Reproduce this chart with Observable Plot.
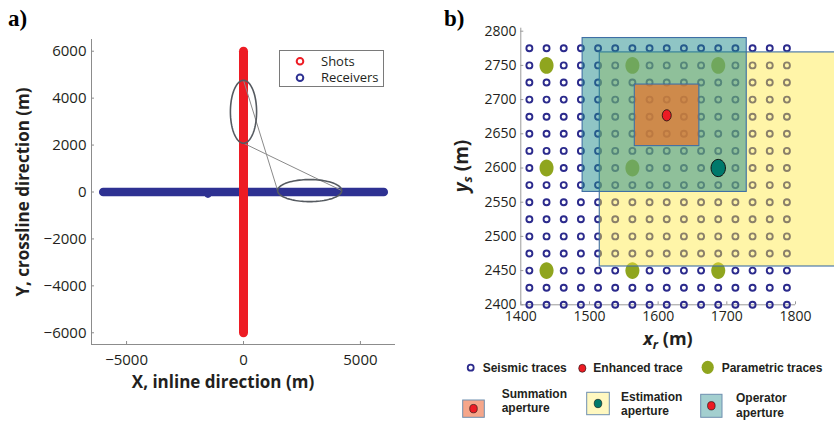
<!DOCTYPE html>
<html>
<head>
<meta charset="utf-8">
<script src="https://cdn.jsdelivr.net/npm/d3@7"></script>
<script src="https://cdn.jsdelivr.net/npm/@observablehq/plot@0.6"></script>
<style>
  html, body { margin: 0; padding: 0; background: #fff; }
  body { width: 834px; height: 421px; position: relative; overflow: hidden; font-family: "Open Sans", sans-serif; }
  .panel { position: absolute; top: 0; }
  #overlay { position: absolute; left: 0; top: 0; pointer-events: none; }
</style>
</head>
<body>
<div id="pa" class="panel" style="left:0px"></div>
<div id="pb" class="panel" style="left:420px"></div>
<svg id="overlay" width="834" height="421"></svg>
<script>
// ---------------- Panel a data ----------------
const aXDomain = [-6500, 6500];
const aYDomain = [-6500, 6500];
const aXTicks = [-5000, 0, 5000];
const aYTicks = [-6000, -4000, -2000, 0, 2000, 4000, 6000];
const shotX = [0, 0];
const shotY = [-6000, 6000];
const receiverX = [-6000, 6000];
const receiverY = [0, 0];
const strayReceiverX = [-1520];
const strayReceiverY = [-110];
// zoom ellipses (centre and half-axes, metres)
const zoomCX = [0, 2830];
const zoomCY = [3420, 60];
const zoomRX = [560, 1370];
const zoomRY = [1340, 470];
const aLegendLabels = ["Shots", "Receivers"];

// ---------------- Panel b data ----------------
const bXDomain = [1400, 1800];
const bYDomain = [2400, 2800];
const bXTicks = [1400, 1500, 1600, 1700, 1800];
const bYTicks = [2400, 2450, 2500, 2550, 2600, 2650, 2700, 2750, 2800];
const traceX = [1412.5, 1437.5, 1462.5, 1487.5, 1512.5, 1537.5, 1562.5, 1587.5, 1612.5, 1637.5, 1662.5, 1687.5, 1712.5, 1737.5, 1762.5, 1787.5];
const traceY = [2400, 2425, 2450, 2475, 2500, 2525, 2550, 2575, 2600, 2625, 2650, 2675, 2700, 2725, 2750, 2775];
const paramX = [1437.5, 1562.5, 1687.5, 1437.5, 1562.5, 1437.5, 1562.5, 1687.5];
const paramY = [2750, 2750, 2750, 2600, 2600, 2450, 2450, 2450];
const enhancedX = [1612.5];
const enhancedY = [2677];
const estPointX = [1687.5];
const estPointY = [2600];
const apertureNames = ["Estimation", "Operator", "Summation"];
const apertureX1 = [1515, 1490, 1566];
const apertureX2 = [1860, 1729, 1660];
const apertureY1 = [2456, 2565, 2632];
const apertureY2 = [2769, 2790, 2722];
const bLegendRow1 = ["Seismic traces", "Enhanced trace", "Parametric traces"];
const bLegendRow2 = [["Summation", "aperture"], ["Estimation", "aperture"], ["Operator", "aperture"]];

// ---------------- styles ----------------
const RED = "#ed1c24", BLUE = "#2e3192", AXIS = "#8c8c8c", TXT = "#231f20";
const apertureStyle = {
  Estimation: {fill: "#ffe93e", opacity: 0.45},
  Operator:   {fill: "#1f8b8b", opacity: 0.5},
  Summation:  {fill: "#e8742a", opacity: 0.7}
};
const OLIVE = "#8fa51e", TEAL = "#00796b";

function ellipseSymbol(aspect) {
  return {
    draw(ctx, size) {
      const rx = Math.sqrt(size / Math.PI), ry = rx * aspect, k = 0.5523;
      ctx.moveTo(rx, 0);
      ctx.bezierCurveTo(rx, ry * k, rx * k, ry, 0, ry);
      ctx.bezierCurveTo(-rx * k, ry, -rx, ry * k, -rx, 0);
      ctx.bezierCurveTo(-rx, -ry * k, -rx * k, -ry, 0, -ry);
      ctx.bezierCurveTo(rx * k, -ry, rx, -ry * k, rx, 0);
      ctx.closePath();
    }
  };
}

// ---------------- Panel a ----------------
const shots = shotX.map((x, i) => ({x, y: shotY[i]}));
const receivers = receiverX.map((x, i) => ({x, y: receiverY[i]}));
const strays = strayReceiverX.map((x, i) => ({x, y: strayReceiverY[i]}));
const ellipsePts = [];
zoomCX.forEach((cx, j) => {
  for (let t = 0; t < 96; t++) {
    const a = (t / 96) * 2 * Math.PI;
    ellipsePts.push({id: j, x: cx + zoomRX[j] * Math.cos(a), y: zoomCY[j] + zoomRY[j] * Math.sin(a)});
  }
});
const connectors = [
  {x1: zoomCX[0], y1: zoomCY[0] + zoomRY[0], x2: zoomCX[1] - zoomRX[1], y2: zoomCY[1]},
  {x1: zoomCX[0], y1: zoomCY[0] - zoomRY[0], x2: zoomCX[1] + zoomRX[1], y2: zoomCY[1]}
];

const chartA = Plot.plot({
  width: 420, height: 421,
  marginLeft: 91, marginRight: 25, marginTop: 39, marginBottom: 77,
  style: {fontFamily: "'Open Sans', sans-serif", fontSize: "15px", color: TXT, background: "transparent", overflow: "visible"},
  x: {domain: aXDomain},
  y: {domain: aYDomain},
  marks: [
    Plot.ruleX([aXDomain[0]], {stroke: AXIS, strokeWidth: 1}),
    Plot.ruleY([aYDomain[0]], {stroke: AXIS, strokeWidth: 1}),
    Plot.axisX(aXTicks, {tickSize: -3, tickPadding: 13, stroke: AXIS, fill: TXT, tickFormat: d3.format("d"), label: null}),
    Plot.axisY(aYTicks, {tickSize: -3, tickPadding: 8, stroke: AXIS, fill: TXT, tickFormat: d3.format("d"), label: null}),
    Plot.line(receivers, {x: "x", y: "y", stroke: BLUE, strokeWidth: 8.5, strokeLinecap: "round"}),
    Plot.dot(strays, {x: "x", y: "y", r: 3.3, fill: BLUE}),
    Plot.line(shots, {x: "x", y: "y", stroke: RED, strokeWidth: 9, strokeLinecap: "round"}),
    Plot.link(connectors, {x1: "x1", y1: "y1", x2: "x2", y2: "y2", stroke: "#8a8a8a", strokeWidth: 1}),
    Plot.line(ellipsePts, {x: "x", y: "y", z: "id", curve: "linear-closed", stroke: "#555a60", strokeWidth: 1.6})
  ]
});
document.getElementById("pa").appendChild(chartA);

// ---------------- Panel b ----------------
const seismic = d3.cross(traceX, traceY).map(([x, y]) => ({x, y}));
const params = paramX.map((x, i) => ({x, y: paramY[i]}));
const apertures = apertureNames.map((name, i) => ({
  name, x1: apertureX1[i], x2: apertureX2[i], y1: apertureY1[i], y2: apertureY2[i]
}));

const chartB = Plot.plot({
  width: 414, height: 421,
  marginLeft: 100.3, marginRight: 39, marginTop: 30.7, marginBottom: 116.7,
  style: {fontFamily: "'Open Sans', sans-serif", fontSize: "14px", color: TXT, background: "transparent"},
  x: {domain: bXDomain},
  y: {domain: bYDomain},
  marks: [
    Plot.ruleX([bXDomain[0]], {stroke: "#9a9a9a", strokeWidth: 1, insetTop: -3}),
    Plot.ruleY([bYDomain[0]], {stroke: "#9a9a9a", strokeWidth: 1}),
    Plot.axisX(bXTicks, {tickSize: -3, tickPadding: 9.7, stroke: "#9a9a9a", fill: TXT, tickFormat: d3.format("d"), label: null}),
    Plot.axisY(bYTicks, {tickSize: -3, tickPadding: 7.3, stroke: "#9a9a9a", fill: TXT, tickFormat: d3.format("d"), label: null}),
    Plot.dot(seismic, {x: "x", y: "y", r: 3, stroke: "#2b2a8c", strokeWidth: 1.9, fill: "none"}),
    Plot.dot(params, {x: "x", y: "y", r: 7, symbol: ellipseSymbol(1.2), fill: OLIVE, stroke: "none"}),
    ...apertures.map(a => Plot.rect([a], {
      x1: "x1", x2: "x2", y1: "y1", y2: "y2",
      fill: apertureStyle[a.name].fill, fillOpacity: apertureStyle[a.name].opacity,
      stroke: "#3f6fa5", strokeWidth: 1.1
    })),
    Plot.dot(enhancedX.map((x, i) => ({x, y: enhancedY[i]})), {x: "x", y: "y", r: 4.5, symbol: ellipseSymbol(1.25), fill: RED, stroke: "#111", strokeWidth: 0.8}),
    Plot.dot(estPointX.map((x, i) => ({x, y: estPointY[i]})), {x: "x", y: "y", r: 7.2, symbol: ellipseSymbol(1.2), fill: TEAL, stroke: "#111", strokeWidth: 1})
  ]
});
document.getElementById("pb").appendChild(chartB);

// ---------------- Overlay: labels and legends ----------------
const ov = d3.select("#overlay");
const SANS = "'Open Sans', sans-serif";
const ARIAL = "'Liberation Sans', Arial, sans-serif";

// panel letters
ov.append("text").attr("x", 8).attr("y", 26).attr("font-family", "'Liberation Serif', serif").attr("font-weight", "bold").attr("font-size", 23).attr("fill", "#000").text("a)");
ov.append("text").attr("x", 444).attr("y", 26).attr("font-family", "'Liberation Serif', serif").attr("font-weight", "bold").attr("font-size", 23).attr("fill", "#000").text("b)");

// panel a axis titles
ov.append("text").attr("x", 223).attr("y", 388).attr("text-anchor", "middle").attr("font-family", SANS).attr("font-weight", "bold").attr("font-size", 17).attr("fill", TXT).text("X, inline direction (m)");
ov.append("text").attr("transform", "translate(29,192) rotate(-90)").attr("text-anchor", "middle").attr("font-family", SANS).attr("font-weight", "bold").attr("font-size", 17).attr("fill", TXT).text("Y, crossline direction (m)");

// panel a legend
ov.append("rect").attr("x", 279.5).attr("y", 50.5).attr("width", 104).attr("height", 36).attr("fill", "#fff").attr("stroke", "#7a7a7a").attr("stroke-width", 1);
[RED, BLUE].forEach((c, i) => {
  ov.append("circle").attr("cx", 300).attr("cy", 61.3 + i * 16.4).attr("r", 3.3).attr("fill", "none").attr("stroke", c).attr("stroke-width", 2);
  ov.append("text").attr("x", 321).attr("y", 66 + i * 16.4).attr("font-family", SANS).attr("font-size", 13).attr("fill", TXT).text(aLegendLabels[i]);
});

// panel b axis titles
const yt = ov.append("text").attr("transform", "translate(468,166) rotate(-90)").attr("text-anchor", "middle").attr("font-family", SANS).attr("font-weight", "bold").attr("font-size", 19).attr("fill", TXT);
yt.append("tspan").attr("font-style", "italic").text("y");
yt.append("tspan").attr("font-size", 13).attr("font-style", "italic").attr("dy", 4).text("s");
yt.append("tspan").attr("dy", -4).text(" (m)");
const xt = ov.append("text").attr("x", 668).attr("y", 345).attr("text-anchor", "middle").attr("font-family", SANS).attr("font-weight", "bold").attr("font-size", 18).attr("fill", TXT);
xt.append("tspan").attr("font-style", "italic").text("x");
xt.append("tspan").attr("font-size", 12.5).attr("font-style", "italic").attr("dy", 4).text("r");
xt.append("tspan").attr("dy", -4).text(" (m)");

// panel b legend row 1
const lg = ov.append("g").attr("font-family", ARIAL).attr("font-weight", "bold").attr("font-size", 12).attr("fill", TXT);
lg.append("circle").attr("cx", 470.7).attr("cy", 367.7).attr("r", 3).attr("fill", "none").attr("stroke", "#2b2a8c").attr("stroke-width", 1.8);
lg.append("text").attr("x", 482.7).attr("y", 372).text(bLegendRow1[0]);
lg.append("ellipse").attr("cx", 582.3).attr("cy", 368.3).attr("rx", 3.6).attr("ry", 4).attr("fill", RED).attr("stroke", "#111").attr("stroke-width", 0.6);
lg.append("text").attr("x", 593.3).attr("y", 372).text(bLegendRow1[1]);
lg.append("ellipse").attr("cx", 707.7).attr("cy", 367.3).attr("rx", 6.1).attr("ry", 6.6).attr("fill", OLIVE);
lg.append("text").attr("x", 721.7).attr("y", 372).text(bLegendRow1[2]);

// panel b legend row 2
const boxes = [
  {x: 462.7, y: 400, w: 21.6, h: 17.3, fill: "#f6a68a", dot: RED, tx: 501.7, ty: 397.7},
  {x: 586.7, y: 392.3, w: 22.6, h: 22.4, fill: "#fff8c0", dot: TEAL, tx: 621, ty: 400.7},
  {x: 700.7, y: 394.3, w: 21.3, h: 23, fill: "#a3cfcf", dot: RED, tx: 736, ty: 402}
];
boxes.forEach((b, i) => {
  lg.append("rect").attr("x", b.x).attr("y", b.y).attr("width", b.w).attr("height", b.h).attr("fill", b.fill).attr("stroke", "#6f8fb0").attr("stroke-width", 1);
  lg.append("ellipse").attr("cx", b.x + b.w / 2).attr("cy", b.y + b.h / 2).attr("rx", 3.8).attr("ry", 4.2).attr("fill", b.dot).attr("stroke", "#111").attr("stroke-width", 0.6);
  lg.append("text").attr("x", b.tx).attr("y", b.ty).text(bLegendRow2[i][0]);
  lg.append("text").attr("x", b.tx).attr("y", b.ty + 14.5).text(bLegendRow2[i][1]);
});
</script>
</body>
</html>
